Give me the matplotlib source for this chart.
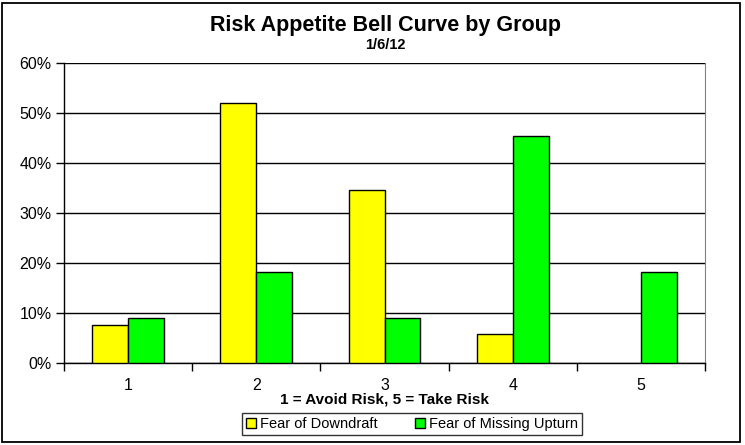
import matplotlib.pyplot as plt
from matplotlib.patches import Rectangle
from matplotlib.ticker import PercentFormatter
import numpy as np

plt.rcParams['font.family'] = ['Liberation Sans', 'DejaVu Sans']

groups = ['1', '2', '3', '4', '5']
downdraft = [7.7, 52.0, 34.6, 5.8, 0.0]
missing_upturn = [9.1, 18.2, 9.1, 45.5, 18.2]
y_ticks = [0, 10, 20, 30, 40, 50, 60]

W, H = 745, 445
fig = plt.figure(figsize=(W / 100, H / 100), dpi=100)
fig.patches.append(Rectangle((2 / W, 3 / H), 738 / W, 439 / H, transform=fig.transFigure,
                             fill=False, edgecolor='black', linewidth=1.3))

ax = fig.add_axes([64 / W, (H - 363) / H, 641 / W, 300 / H])
x = np.arange(len(groups))
w = 0.28
b1 = ax.bar(x - w / 2, downdraft, w, color='#ffff00', edgecolor='black', linewidth=1,
            label='Fear of Downdraft', zorder=3)
b2 = ax.bar(x + w / 2, missing_upturn, w, color='#00ff00', edgecolor='black', linewidth=1,
            label='Fear of Missing Upturn', zorder=3)
# empty bars are not drawn at all
for bars in (b1, b2):
    for p in bars:
        if p.get_height() == 0:
            p.set_visible(False)

ax.set_xlim(-0.5, len(groups) - 0.5)
ax.set_ylim(0, 60)
ax.set_yticks(y_ticks)
ax.yaxis.set_major_formatter(PercentFormatter(decimals=0))
ax.yaxis.grid(True, color='black', linewidth=1, zorder=0)
ax.set_xticks(x)
ax.set_xticklabels(groups)
ax.set_xticks(np.arange(len(groups) + 1) - 0.5, minor=True)
ax.tick_params(axis='x', which='major', length=0, pad=11, labelsize=11.5)
ax.tick_params(axis='x', which='minor', length=6, width=1, direction='out')
ax.tick_params(axis='y', length=6, width=1, direction='out', labelsize=11.5, pad=3)

ax.spines['top'].set_visible(False)
ax.spines['right'].set_color('#808080')
ax.spines['left'].set_linewidth(1)
ax.spines['bottom'].set_linewidth(1)

fig.text(385 / W, 1 - 25 / H, 'Risk Appetite Bell Curve by Group', ha='center', va='center',
         fontsize=15.5, fontweight='bold')
fig.text(385 / W, 1 - 45 / H, '1/6/12', ha='center', va='center', fontsize=10.5, fontweight='bold')
fig.text(385 / W, 1 - 400 / H, '1 = Avoid Risk, 5 = Take Risk', ha='center', va='center',
         fontsize=11, fontweight='bold')

leg = fig.legend(loc='center', bbox_to_anchor=(412 / W, 1 - 424 / H), ncol=2, frameon=True,
                 fancybox=False, edgecolor='black', fontsize=10.5, handlelength=0.7,
                 handleheight=0.7, handletextpad=0.3, columnspacing=2.5, borderpad=0.25,
                 borderaxespad=0)
leg.get_frame().set_linewidth(1)

plt.savefig('out.png', dpi=100)
